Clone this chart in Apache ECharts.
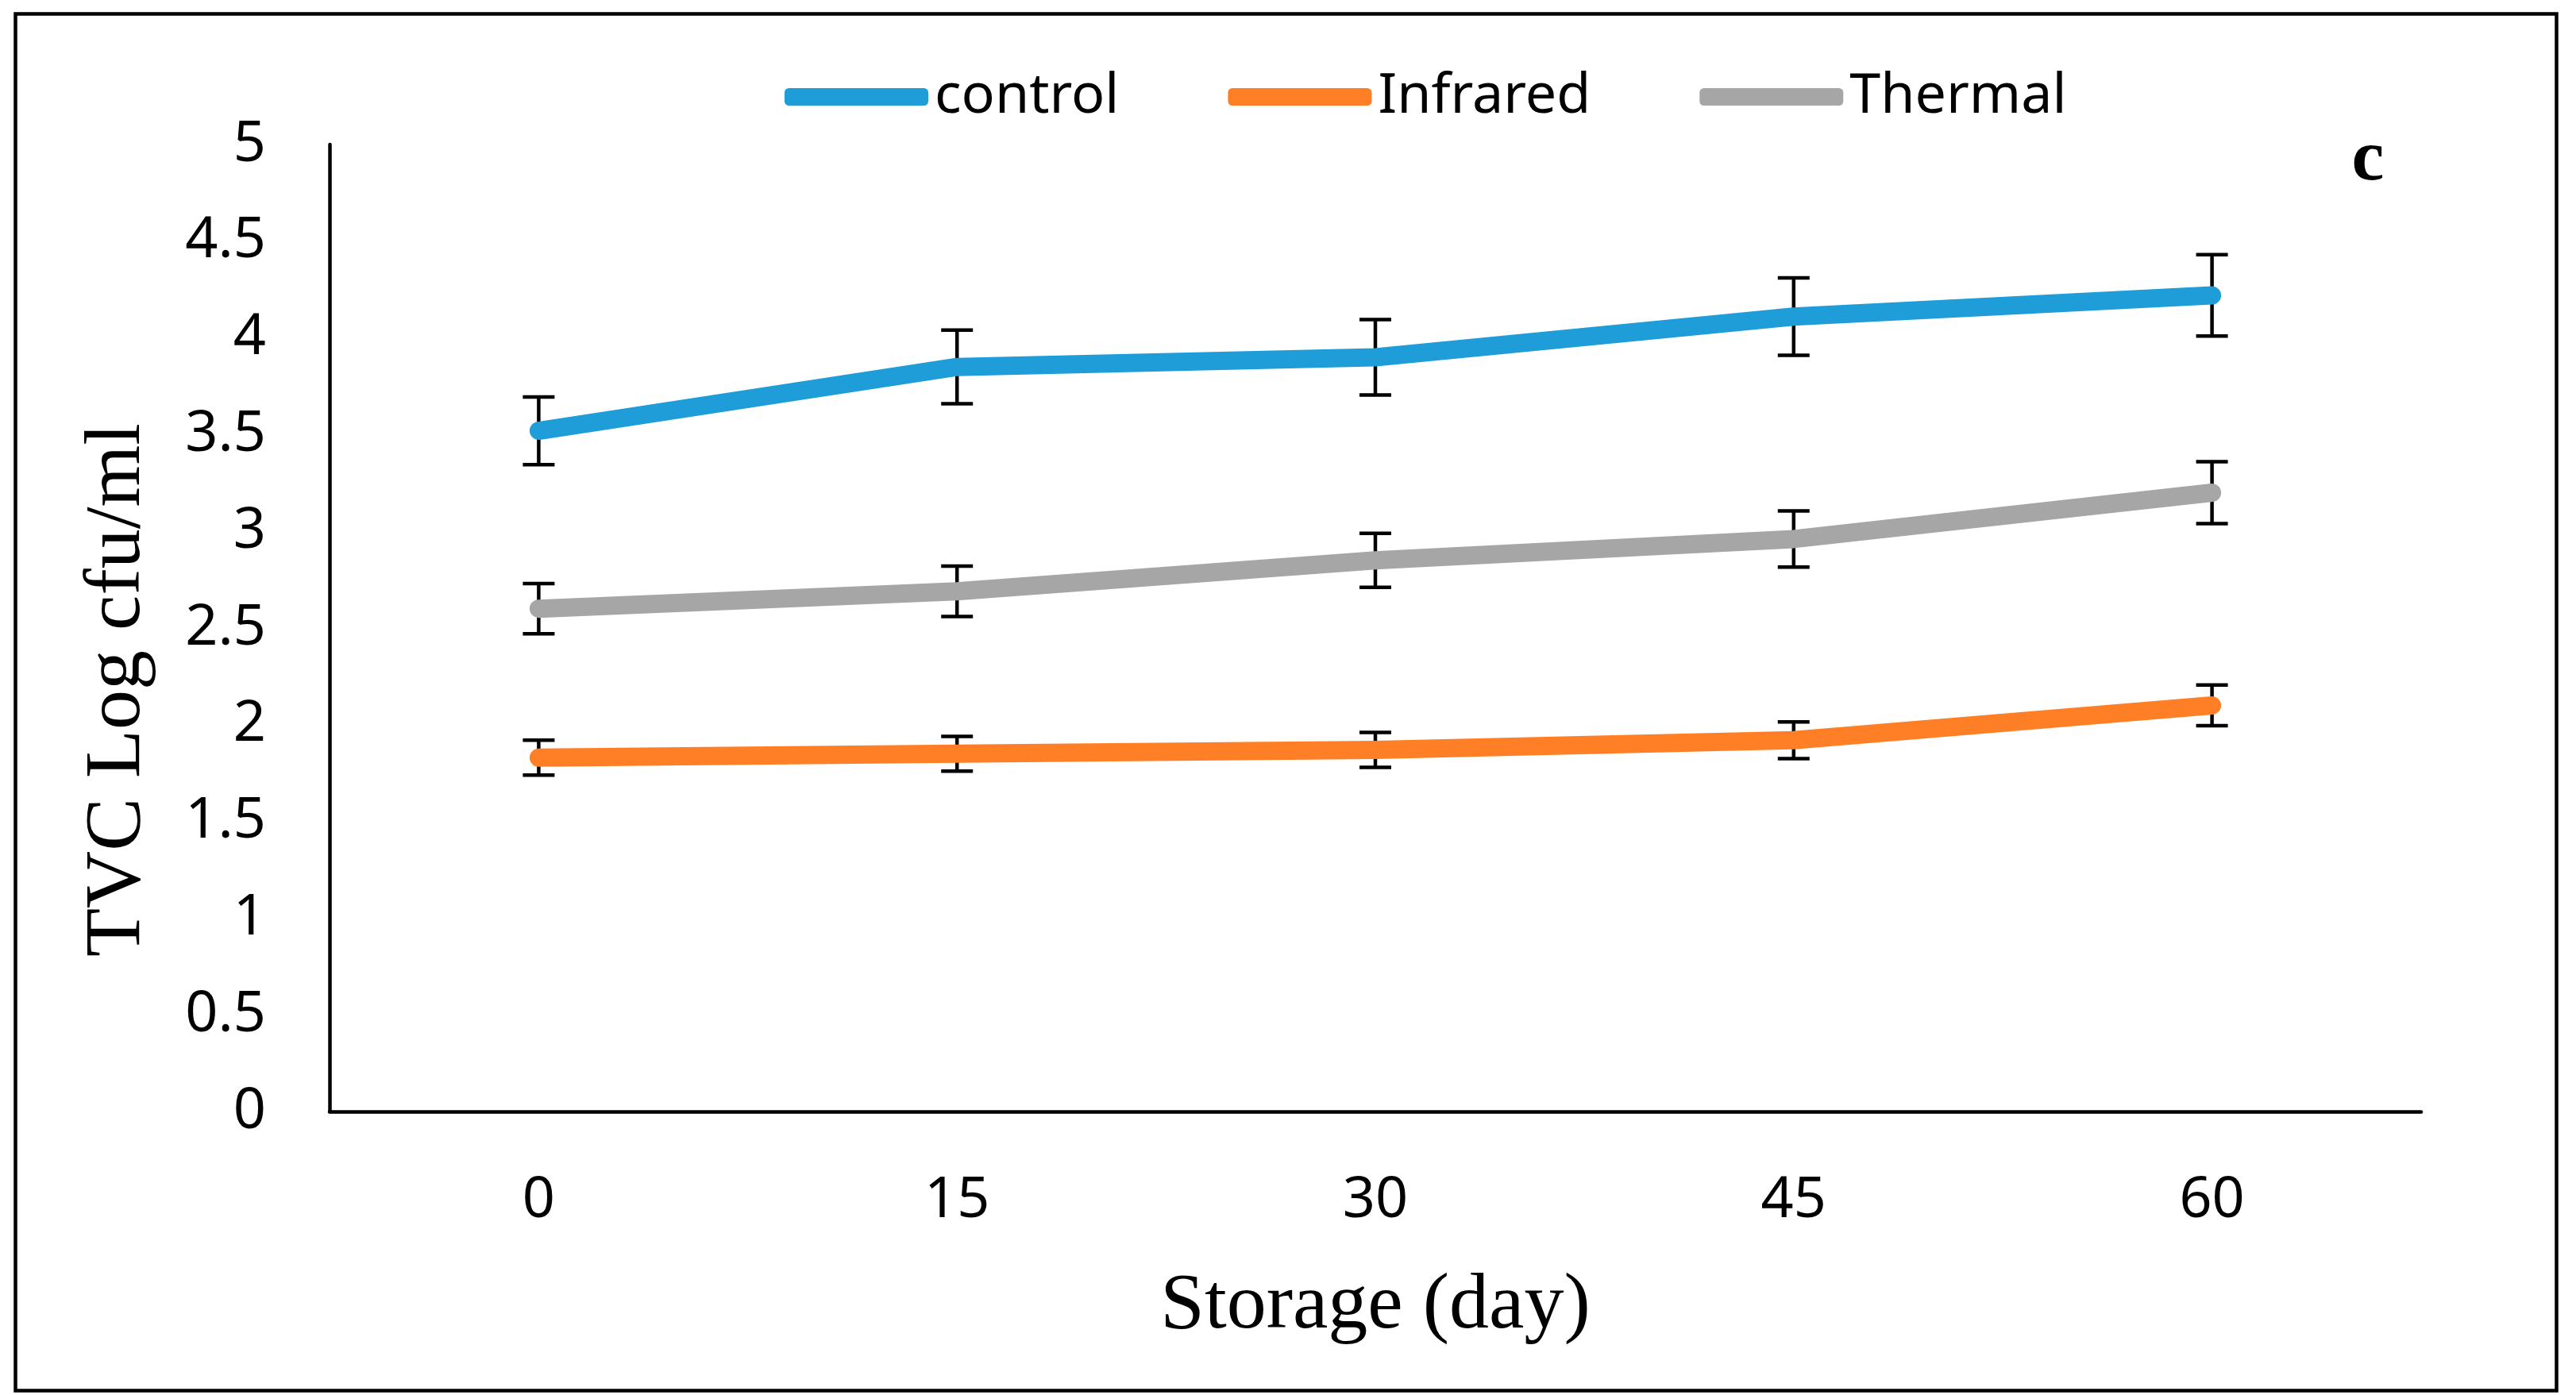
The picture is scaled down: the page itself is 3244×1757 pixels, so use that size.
<!DOCTYPE html>
<html>
<head>
<meta charset="utf-8">
<script src="https://cdn.jsdelivr.net/npm/echarts@6/dist/echarts.min.js"></script>
<style>
html,body{margin:0;padding:0;background:#fff;}
#chart{width:3244px;height:1757px;}
</style>
</head>
<body>
<div id="chart"></div>
<script>
var categories = ['0', '15', '30', '45', '60'];
var seriesNames = ['control', 'Infrared', 'Thermal'];
var controlValues = [3.52, 3.85, 3.90, 4.11, 4.22];
var controlErrors = [0.175, 0.19, 0.195, 0.20, 0.21];
var infraredValues = [1.83, 1.85, 1.87, 1.92, 2.10];
var infraredErrors = [0.09, 0.09, 0.09, 0.095, 0.105];
var thermalValues = [2.60, 2.69, 2.85, 2.96, 3.20];
var thermalErrors = [0.13, 0.13, 0.14, 0.145, 0.16];
var yTicks = [0, 0.5, 1, 1.5, 2, 2.5, 3, 3.5, 4, 4.5, 5];

var colors = ['#1F9DD9', '#FF7F27', '#A6A6A6'];

function errData(vals, errs) {
  return vals.map(function (v, i) { return [i, v - errs[i], v + errs[i]]; });
}

function renderErr(params, api) {
  var x = api.value(0);
  var lo = api.coord([x, api.value(1)]);
  var hi = api.coord([x, api.value(2)]);
  var hw = 20;
  var st = { stroke: '#000', lineWidth: 4.5 };
  return {
    type: 'group',
    children: [
      { type: 'line', shape: { x1: lo[0], y1: lo[1], x2: hi[0], y2: hi[1] }, style: st },
      { type: 'line', shape: { x1: lo[0] - hw, y1: lo[1], x2: lo[0] + hw, y2: lo[1] }, style: st },
      { type: 'line', shape: { x1: hi[0] - hw, y1: hi[1], x2: hi[0] + hw, y2: hi[1] }, style: st }
    ]
  };
}

function lineSeries(name, data, color) {
  return {
    name: name, type: 'line', data: data, showSymbol: false, symbol: 'none',
    z: 5, silent: true,
    lineStyle: { color: color, width: 23, cap: 'round', join: 'round' },
    itemStyle: { color: color }
  };
}

function errSeries(vals, errs) {
  return {
    type: 'custom', renderItem: renderErr, data: errData(vals, errs),
    encode: { x: 0, y: [1, 2] }, z: 2, silent: true
  };
}

var chart = echarts.init(document.getElementById('chart'), null, { renderer: 'canvas' });
chart.setOption({
  backgroundColor: '#ffffff',
  animation: false,
  legend: {
    data: seriesNames.map(function (n, i) {
      return { name: n, icon: 'roundRect', itemStyle: { color: colors[i] } };
    }),
    left: 983, top: 82,
    itemWidth: 181, itemHeight: 22, itemGap: 137,
    textStyle: { fontFamily: 'Noto Sans', fontSize: 70, color: '#000', padding: [0, 0, 0, 3] }
  },
  grid: { left: 415, right: 195, top: 182, bottom: 357, containLabel: false },
  xAxis: {
    type: 'category', data: categories, boundaryGap: true,
    name: 'Storage (day)', nameLocation: 'middle', nameGap: 196,
    nameTextStyle: { fontFamily: 'Liberation Serif', fontSize: 100, color: '#000' },
    axisLine: { lineStyle: { color: '#000', width: 4.5 } },
    axisTick: { show: false },
    axisLabel: { fontFamily: 'Noto Sans', fontSize: 72, color: '#000', margin: 76 },
    splitLine: { show: false }
  },
  yAxis: {
    type: 'value', min: yTicks[0], max: yTicks[yTicks.length - 1], interval: 0.5,
    axisLine: { show: true, lineStyle: { color: '#000', width: 4.5 } },
    axisTick: { show: false },
    axisLabel: { fontFamily: 'Noto Sans', fontSize: 72, color: '#000', margin: 80 },
    splitLine: { show: false }
  },
  graphic: [
    { type: 'rect', shape: { x: 19.5, y: 17.5, width: 3200, height: 1734 },
      style: { fill: null, stroke: '#000', lineWidth: 4.5 }, z: 0 },
    { type: 'text', x: 149, y: 869, rotation: Math.PI / 2,
      style: { text: 'TVC Log cfu/ml', fontFamily: 'Liberation Serif', fontSize: 100, fill: '#000',
               align: 'center', verticalAlign: 'middle' } },
    { type: 'text', x: 2982, y: 202,
      style: { text: 'c', fontFamily: 'Liberation Serif', fontWeight: 'bold', fontSize: 92, fill: '#000',
               align: 'center', verticalAlign: 'middle' } }
  ],
  series: [
    errSeries(controlValues, controlErrors),
    errSeries(infraredValues, infraredErrors),
    errSeries(thermalValues, thermalErrors),
    lineSeries(seriesNames[0], controlValues, colors[0]),
    lineSeries(seriesNames[1], infraredValues, colors[1]),
    lineSeries(seriesNames[2], thermalValues, colors[2])
  ]
});
</script>
</body>
</html>
